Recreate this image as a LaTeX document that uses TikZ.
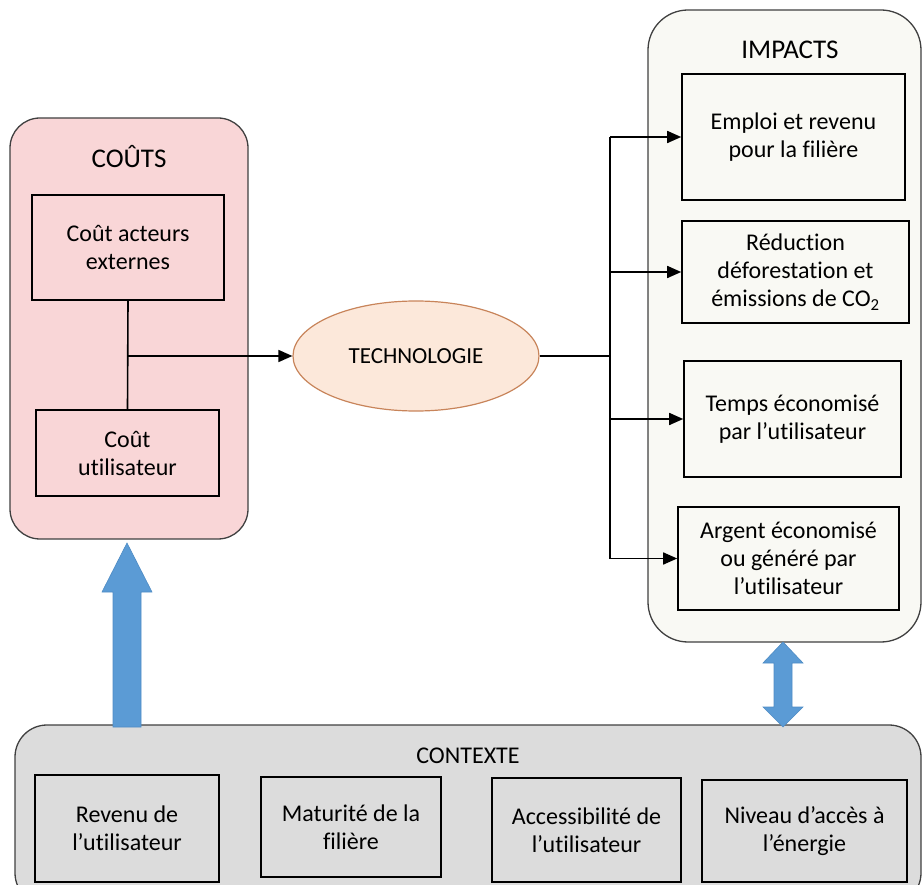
\documentclass[tikz,border=0pt]{standalone}
\usepackage{fontspec}
\setmainfont{Carlito}[Ligatures={NoCommon}]
\usetikzlibrary{shapes.geometric,arrows.meta,positioning,calc}
\definecolor{pinkfill}{HTML}{F9D6D7}
\definecolor{techfill}{HTML}{FCE8DA}
\definecolor{techdraw}{HTML}{C8845A}
\definecolor{impfill}{HTML}{F9F9F4}
\definecolor{ctxfill}{HTML}{DCDCDC}
\definecolor{bluefill}{HTML}{5B9BD5}
\definecolor{bluedraw}{HTML}{4F8CC4}
\definecolor{framecol}{HTML}{404040}
\begin{document}
\begin{tikzpicture}[x=1pt,y=-1pt,
  txt/.style={font=\fontsize{24}{28}\selectfont, align=center, inner sep=0pt},
  ttl/.style={font=\fontsize{27}{30}\selectfont, inner sep=0pt},
  itembox/.style={draw=black, line width=1.6pt, txt},
  frame/.style={draw=framecol, line width=1.3pt},
  conn/.style={draw=black, line width=1.6pt},
  arr/.style={conn, -{Triangle[length=14pt,width=12pt]}},
  bigarrow/.style={fill=bluefill, draw=bluedraw, line width=0.6pt, line join=miter}
]
\useasboundingbox (0,0) rectangle (922,885);

% containers
\draw[frame, fill=pinkfill, rounded corners=30pt] (10,118) rectangle (248,539);
\draw[frame, fill=impfill, rounded corners=40pt] (648,10) rectangle (921,642);
\draw[frame, fill=ctxfill, rounded corners=32pt] (15,725) rectangle (921,905);

% titles
\node[ttl] (tcouts) at (129,157) {COÛTS};
\node[ttl] (timp) at (790,50) {IMPACTS};
\node[txt] (tctx) at (468,756) {CONTEXTE};

% cost boxes
\node[itembox, minimum width=192pt, minimum height=105pt] (c1) at (128,247.5) {Coût acteurs\\externes};
\node[itembox, minimum width=183pt, minimum height=86pt] (c2) at (127.5,453) {Coût\\utilisateur};

% technology
\node[ellipse, draw=techdraw, line width=1.2pt, fill=techfill, minimum width=246pt, minimum height=110pt, inner sep=0pt, font=\fontsize{23}{26}\selectfont] (tech) at (416,356) {TECHNOLOGIE};

% impact boxes
\node[itembox, minimum width=223pt, minimum height=126pt] (b1) at (793.5,137) {Emploi et revenu\\pour la filière};
\node[itembox, minimum width=227pt, minimum height=102pt] (b2) at (795.5,272) {Réduction\\déforestation et\\émissions de CO\textsubscript{2}};
\node[itembox, minimum width=217pt, minimum height=116pt] (b3) at (792.5,419) {Temps économisé\\par l’utilisateur};
\node[itembox, minimum width=221pt, minimum height=103pt] (b4) at (788.5,558.5) {Argent économisé\\ou généré par\\l’utilisateur};

% context boxes
\node[itembox, minimum width=184pt, minimum height=107pt] (k1) at (127,828.5) {Revenu de\\l’utilisateur};
\node[itembox, minimum width=180pt, minimum height=100pt] (k2) at (351,827) {Maturité de la\\filière};
\node[itembox, minimum width=189pt, minimum height=104pt] (k3) at (586.5,830) {Accessibilité de\\l’utilisateur};
\node[itembox, minimum width=205pt, minimum height=102pt] (k4) at (804.5,831) {Niveau d’accès à\\l’énergie};

% connectors
\draw[conn] (c1.south) -- (c2.north);
\draw[arr] (c1.south |- tech.west) -- (tech.west);
\coordinate (j) at (610,356);
\draw[conn] (tech.east) -- (j);
\draw[conn] (j |- b1.west) -- (j |- b4.west);
\draw[arr] (j |- b1.west) -- (b1.west);
\draw[arr] (j |- b2.west) -- (b2.west);
\draw[arr] (j |- b3.west) -- (b3.west);
\draw[arr] (j |- b4.west) -- (b4.west);

% big blue arrows
\draw[bigarrow] (113,727) -- (113,592) -- (102,592) -- (127,543) -- (152,592) -- (141,592) -- (141,727) -- cycle;
\draw[bigarrow] (783,642) -- (803,663) -- (792,663) -- (792,707) -- (803,707) -- (783,727) -- (763,707) -- (774,707) -- (774,663) -- (763,663) -- cycle;
\end{tikzpicture}
\end{document}
